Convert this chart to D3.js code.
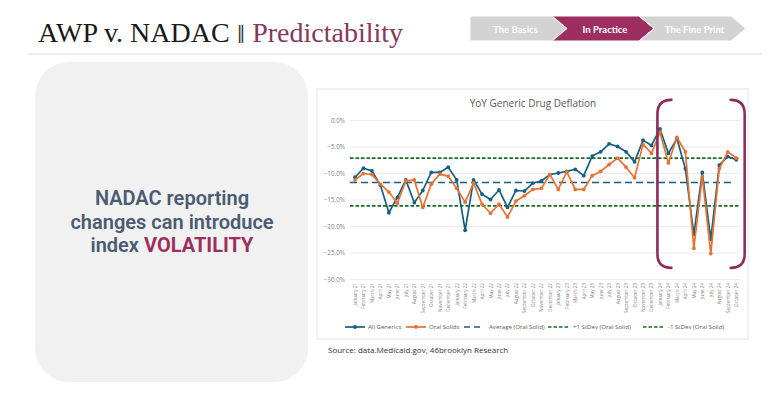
<!DOCTYPE html>
<html><head><meta charset="utf-8">
<script src="https://cdn.jsdelivr.net/npm/d3@7"></script>
<style>body{margin:0;background:#fff}svg{display:block}</style>
</head><body>
<svg id="c" width="768" height="396"></svg>
<script>
const months = ["January 21","February 21","March 21","April 21","May 21","June 21","July 21","August 21","September 21","October 21","November 21","December 21",
"January 22","February 22","March 22","April 22","May 22","June 22","July 22","August 22","September 22","October 22","November 22","December 22",
"January 23","February 23","March 23","April 23","May 23","June 23","July 23","August 23","September 23","October 23","November 23","December 23",
"January 24","February 24","March 24","April 24","May 24","June 24","July 24","August 24","September 24","October 24"];
const allGenerics = [-10.8,-9.1,-9.6,-12.3,-17.5,-14.6,-11.3,-15.6,-13.3,-9.9,-9.9,-8.9,
-11.3,-20.8,-11.3,-14.0,-15.0,-13.2,-16.5,-13.3,-13.4,-11.9,-11.5,-10.3,
-10.0,-9.7,-9.3,-10.5,-6.8,-6.0,-4.5,-5.0,-6.0,-7.9,-3.8,-4.8,
-1.7,-6.3,-3.5,-9.2,-21.6,-9.9,-22.5,-8.5,-6.9,-7.5];
const oralSolids = [-11.3,-10.1,-10.3,-12.1,-13.6,-15.7,-11.5,-11.3,-16.5,-12.1,-10.2,-10.6,
-12.9,-15.5,-11.9,-15.9,-17.6,-15.9,-18.3,-15.3,-14.3,-13.1,-12.9,-10.3,
-13.1,-9.8,-13.1,-13.1,-10.5,-9.7,-8.4,-7.2,-8.9,-10.9,-4.6,-6.3,
-2.3,-8.1,-3.3,-6.0,-24.2,-10.7,-25.2,-9.2,-6.0,-7.2];
const refNames = ["Average (Oral Solid)","+1 StDev (Oral Solid)","-1 StDev (Oral Solid)"];
const refValues = [-11.8,-7.2,-16.2];
const yTicks = [0,-5,-10,-15,-20,-25,-30];
const seriesNames = ["All Generics","Oral Solids"];
const navLabels = ["The Basics","In Practice","The Fine Print"];
const panelLines = ["NADAC reporting","changes can introduce","index "];
const bracketRange = {from:35.7, to:46.0, top:3.8, bottom:-27.9};

const C = {blue:"#156082", orange:"#E97132", green:"#196B24", plum:"#8f2d5c", slate:"#4b5b72", grayText:"#7f7f7f"};
const svg = d3.select("#c");

// ---- header ----
const title = svg.append("text").attr("x",38).attr("y",42).attr("font-family","Liberation Serif, serif").attr("font-size",28).attr("fill","#1a1a1a");
title.append("tspan").text("AWP v. NADAC ");
title.append("tspan").text("\u2016").attr("font-family","DejaVu Sans, sans-serif").attr("font-size",17).attr("fill","#333").attr("dy",-3.5);
title.append("tspan").text(" Predictability").attr("fill","#86375c").attr("dy",3.5);
svg.append("line").attr("x1",28).attr("x2",762).attr("y1",54).attr("y2",54).attr("stroke","#dcdcdc").attr("stroke-width",1);

// nav chevrons
const navX = d3.scaleBand().domain(navLabels).range([470,731]);
const tip = 15, nTop = 16, nBot = 41, nMid = 28.5;
navLabels.forEach((lab,i)=>{
  const x0 = i===0 ? 470 : navX(lab)-5, x1 = navX(lab)+navX.bandwidth()-5+(i===2?5:0);
  const pts = i===0 ? [[x0,nTop],[x1,nTop],[x1+tip,nMid],[x1,nBot],[x0,nBot]]
    : [[x0,nTop],[x1,nTop],[x1+tip,nMid],[x1,nBot],[x0,nBot],[x0+tip,nMid]];
  svg.append("path").attr("d","M"+pts.join("L")+"Z").attr("fill", i===1?"#9c2f60":"#d3d3d3").attr("stroke","#fff").attr("stroke-width",1);
  svg.append("text").attr("x",(x0+x1+tip)/2 + (i===0?-3:2)).attr("y",32.5).attr("text-anchor","middle")
    .attr("font-family","Lato, sans-serif").attr("font-weight",700).attr("font-size",9.5).attr("fill","#fff").text(lab);
});

// ---- left panel ----
svg.append("rect").attr("x",35).attr("y",62).attr("width",273).attr("height",320).attr("rx",34).attr("fill","#f1f1f1");
panelLines.forEach((l,i)=>{
  const t = svg.append("text").attr("x",172).attr("y",205+i*23.5).attr("text-anchor","middle")
    .attr("font-family","Roboto, sans-serif").attr("font-weight",600).attr("font-size",20).attr("fill",C.slate);
  t.append("tspan").text(l);
  if(i===panelLines.length-1) t.append("tspan").text("VOLATILITY").attr("fill","#9c2f60").attr("font-weight",700);
});

// ---- chart box ----
svg.append("rect").attr("x",317).attr("y",89).attr("width",431).attr("height",250).attr("fill","#fff").attr("stroke","#e4e4e4").attr("stroke-width",1);
svg.append("text").attr("x",533).attr("y",107).attr("text-anchor","middle").attr("font-family","Open Sans, sans-serif").attr("font-size",10).attr("fill","#595959").text("YoY Generic Drug Deflation");

const x = d3.scalePoint().domain(d3.range(months.length)).range([355,736.2]);
const xl = d3.scaleLinear().domain([0,months.length-1]).range([355,736.2]);
const y = d3.scaleLinear().domain([-30,0]).range([279,120]);

// gridlines + y labels
const yAxis = d3.axisLeft(y).tickValues(yTicks).tickSize(-(740-350)).tickFormat(d=>d3.format(".1f")(d)+"%");
const gy = svg.append("g").attr("transform","translate(350,0)").call(yAxis);
gy.select(".domain").remove();
gy.selectAll(".tick line").attr("stroke","#e6e6e6").attr("stroke-width",0.8);
gy.selectAll(".tick text").attr("x",-5).attr("font-family","Open Sans, sans-serif").attr("font-size",6.3).attr("fill",C.grayText);

// x labels
const xAxis = d3.axisBottom(x).tickSize(0).tickFormat(i=>months[i]);
const gx = svg.append("g").attr("transform","translate(0,281)").call(xAxis);
gx.select(".domain").remove();
gx.selectAll(".tick text").attr("transform","rotate(-90)").attr("text-anchor","end").attr("x",-2).attr("y",0).attr("dy","0.32em")
  .attr("font-family","Open Sans, sans-serif").attr("font-size",4.6).attr("fill",C.grayText);

// reference lines
const refStyle = [{c:C.blue,w:1.6,d:"7,4"},{c:C.green,w:1.6,d:"3.5,2"},{c:C.green,w:1.6,d:"3.5,2"}];
refValues.forEach((v,i)=>{
  svg.append("line").attr("x1",350).attr("x2",i===0?734:739).attr("y1",y(v)).attr("y2",y(v))
    .attr("stroke",refStyle[i].c).attr("stroke-width",refStyle[i].w).attr("stroke-dasharray",refStyle[i].d);
});

// series
const line = d3.line().x((d,i)=>x(i)).y(d=>y(d));
[[allGenerics,C.blue],[oralSolids,C.orange]].forEach(([data,col])=>{
  svg.append("path").datum(data).attr("d",line).attr("fill","none").attr("stroke",col).attr("stroke-width",1.7).attr("stroke-linejoin","round");
  svg.append("g").selectAll("circle").data(data).join("circle").attr("cx",(d,i)=>x(i)).attr("cy",d=>y(d)).attr("r",1.9).attr("fill",col);
});

// brackets
const bx0 = xl(bracketRange.from), bx1 = xl(bracketRange.to), bt = y(bracketRange.top), bb = y(bracketRange.bottom);
const p1 = d3.path(); p1.moveTo(bx0+14,bt); p1.quadraticCurveTo(bx0,bt,bx0,bt+14); p1.lineTo(bx0,bb-14); p1.quadraticCurveTo(bx0,bb,bx0+14,bb);
const p2 = d3.path(); p2.moveTo(bx1-14,bt); p2.quadraticCurveTo(bx1,bt,bx1,bt+14); p2.lineTo(bx1,bb-14); p2.quadraticCurveTo(bx1,bb,bx1-14,bb);
[p1,p2].forEach(p=>svg.append("path").attr("d",p.toString()).attr("fill","none").attr("stroke","#8d2b5b").attr("stroke-width",2.6).attr("stroke-linecap","round"));

// legend
const legendItems = [
  {name:seriesNames[0],c:C.blue,dash:null,marker:true,x:345},
  {name:seriesNames[1],c:C.orange,dash:null,marker:true,x:406},
  {name:refNames[0],c:C.blue,dash:"6,4",marker:false,x:464},
  {name:refNames[1],c:C.green,dash:"3.5,2",marker:false,x:548},
  {name:refNames[2],c:C.green,dash:"3.5,2",marker:false,x:643}
];
const lg = svg.append("g");
legendItems.forEach(it=>{
  const g = lg.append("g").attr("transform",`translate(${it.x},327)`);
  g.append("line").attr("x1",0).attr("x2",it.marker?20:20).attr("stroke",it.c).attr("stroke-width",1.7).attr("stroke-dasharray",it.dash);
  if(it.marker) g.append("circle").attr("cx",10).attr("r",1.9).attr("fill",it.c);
  g.append("text").attr("x",it.marker?23:25).attr("dy","0.35em").attr("font-family","Open Sans, sans-serif").attr("font-size",6.1).attr("fill","#595959").text(it.name);
});

// source
svg.append("text").attr("x",328).attr("y",353).attr("font-family","Open Sans, sans-serif").attr("font-size",8).attr("fill","#333").text("Source: data.Medicaid.gov, 46brooklyn Research");
</script>
</body></html>
